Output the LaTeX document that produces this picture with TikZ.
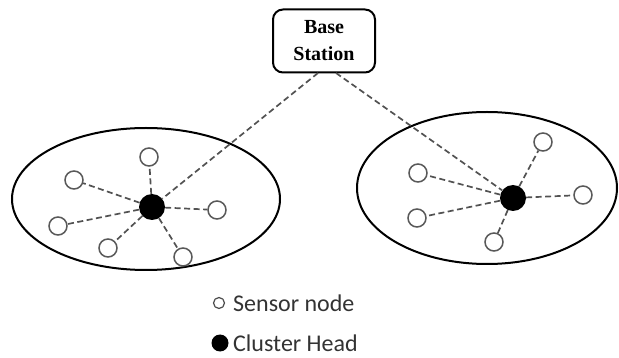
\documentclass[tikz,border=0pt]{standalone}
\usepackage{fontspec}
\setmainfont{Liberation Serif}
\newfontfamily\legendfont{Carlito}
\begin{document}
\begin{tikzpicture}[x=1pt,y=-1pt,
  sensor/.style={circle,draw=black!65,line width=1.5pt,fill=white,minimum size=18pt,inner sep=0pt},
  chead/.style={circle,fill=black,minimum size=26pt,inner sep=0pt},
  link/.style={dashed,dash pattern=on 6pt off 3.5pt,line width=1.7pt,draw=black!68},
  region/.style={draw=black,line width=2pt},
  legtext/.style={anchor=west,inner sep=0pt,font=\legendfont\fontsize{24}{28}\selectfont,text=black!80}]
\useasboundingbox (0,0) rectangle (619,358);
% clusters
\draw[region] (146,199) ellipse [x radius=134, y radius=71];
\draw[region] (487,188) ellipse [x radius=130, y radius=76];
% base station
\node[draw,line width=2pt,rounded corners=10pt,minimum width=102pt,minimum height=63pt,align=center,
  font=\bfseries\fontsize{20}{27}\selectfont,inner sep=0pt] (base) at (324,41) {Base\\Station};
\coordinate (bsL) at (318,73);
\coordinate (bsR) at (336,73);
% left cluster
\node[chead] (h1) at (152,207) {};
\node[sensor] (a1) at (149,157) {};
\node[sensor] (a2) at (74,180) {};
\node[sensor] (a3) at (58,226) {};
\node[sensor] (a4) at (108,248) {};
\node[sensor] (a5) at (183,257) {};
\node[sensor] (a6) at (217,210) {};
% right cluster
\node[chead] (h2) at (513,198) {};
\node[sensor] (b1) at (543,142) {};
\node[sensor] (b2) at (418,173) {};
\node[sensor] (b3) at (583,195) {};
\node[sensor] (b4) at (417,218) {};
\node[sensor] (b5) at (494,242) {};
% links
\foreach \s in {a1,a2,a3,a4,a5,a6} \draw[link] (h1) -- (\s);
\foreach \s in {b1,b2,b3,b4,b5} \draw[link] (h2) -- (\s);
\draw[link] (bsL) -- (h1);
\draw[link] (bsR) -- (h2);
% legend
\node[circle,draw=black!70,line width=1.2pt,minimum size=11pt,inner sep=0pt] (ls) at (219,303) {};
\node[legtext] (lst) at (233,303) {Sensor node};
\node[circle,fill=black,minimum size=17pt,inner sep=0pt] (lh) at (220,343) {};
\node[legtext] (lht) at (233,343) {Cluster Head};
\end{tikzpicture}
\end{document}
